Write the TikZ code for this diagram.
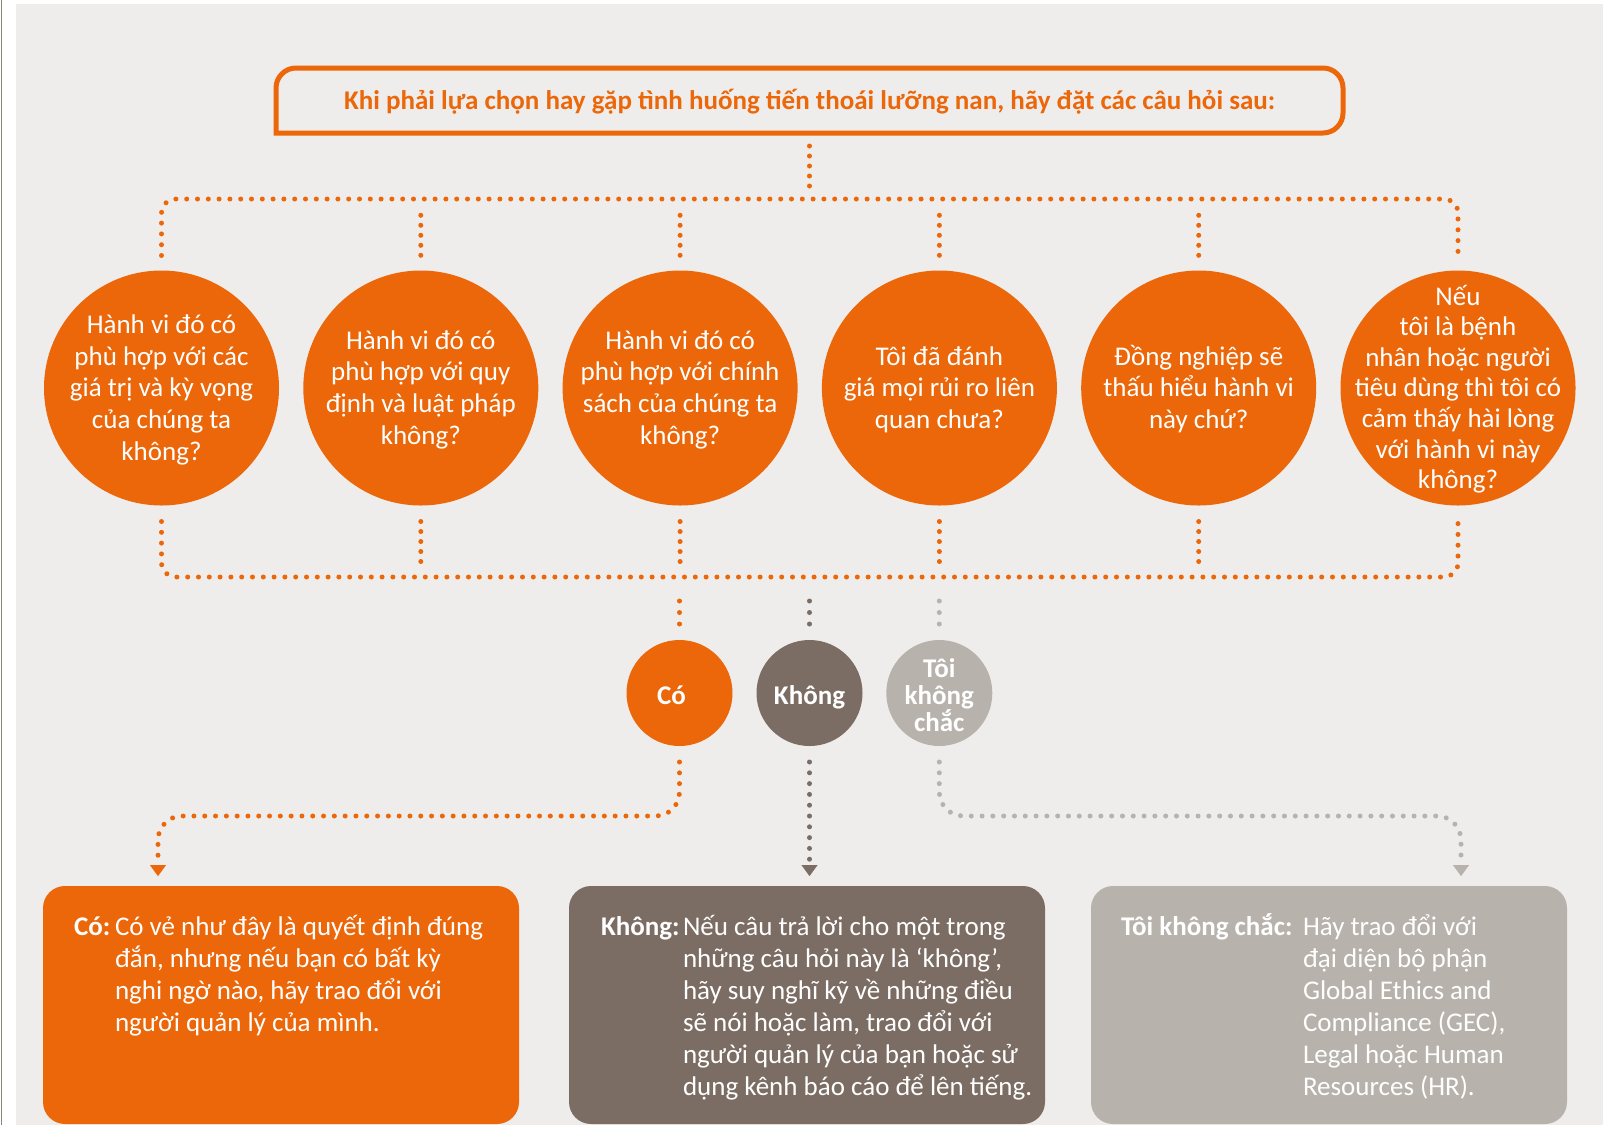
\documentclass[tikz,border=0pt]{standalone}
\usepackage{fontspec}
\setmainfont{Carlito}
\usetikzlibrary{calc,arrows.meta}

\definecolor{brandorange}{RGB}{235,103,9}
\definecolor{warmbrown}{RGB}{123,109,100}
\definecolor{warmgray}{RGB}{183,178,172}
\definecolor{panelbg}{RGB}{239,237,235}
\definecolor{edgerule}{RGB}{140,131,124}

\newcommand\bodysize{\fontsize{27}{31.7}\selectfont}
\newcommand\boxsize{\fontsize{27}{32}\selectfont}
\newcommand\qlines[2]{\parbox[t]{#1}{\centering\bodysize #2}}
\newcommand\blines[1]{\parbox[t]{440pt}{\raggedright\boxsize #1}}

\begin{document}
\begin{tikzpicture}[x=1pt,y=-1pt,
  qcirc/.style={circle, fill=brandorange, minimum size=235pt, inner sep=0pt, outer sep=0pt},
  acirc/.style={circle, minimum size=106pt, inner sep=0pt, outer sep=0pt},
  qtext/.style={text=white, inner sep=0pt, outer sep=0pt, anchor=base},
  answerbox/.style={rectangle, rounded corners=22pt, minimum width=476pt, minimum height=238pt, inner sep=0pt, outer sep=0pt},
  titlenode/.style={rectangle, minimum width=1067pt, minimum height=65pt, inner sep=0pt, outer sep=0pt,
    text=brandorange, font=\bfseries\fontsize{27}{31}\selectfont, text height=18pt, text depth=0pt},
  dotrun/.style={line width=5pt, line cap=round, dash pattern=on 0pt off 10.8pt},
  stubrun/.style={line width=5pt, line cap=round, dash pattern=on 0pt off 10pt},
  shortrun/.style={line width=5pt, line cap=round, dash pattern=on 0pt off 11.5pt},
  tip/.style={-{Triangle[width=16pt,length=11pt,line width=0.01pt]}},
  ]

% canvas
\useasboundingbox (0,0) rectangle (1613,1125);
\fill[white] (0,0) rectangle (1613,1125);
\fill[panelbg] (16,4) rectangle (1603,1125);
\draw[edgerule, line width=1.6pt] (1.5,0) -- (1.5,1125);

% heading with its frame (bottom-left corner kept square)
\node[titlenode] (title) at (809.5,100.5) {Khi phải lựa chọn hay gặp tình huống tiến thoái lưỡng nan, hãy đặt các câu hỏi sau:};
\draw[brandorange, line width=5pt]
  (title.south west) -- ($(title.north west)+(0,20)$)
  .. controls ($(title.north west)+(0,9)$) and ($(title.north west)+(9,0)$) .. ($(title.north west)+(20,0)$)
  -- ($(title.north east)+(-20,0)$)
  .. controls ($(title.north east)+(-9,0)$) and ($(title.north east)+(0,9)$) .. ($(title.north east)+(0,20)$)
  -- ($(title.south east)+(0,-20)$)
  .. controls ($(title.south east)+(0,-9)$) and ($(title.south east)+(-9,0)$) .. ($(title.south east)+(-20,0)$)
  -- cycle;

% question circles
\foreach \i/\x in {1/161.5, 2/420.8, 3/680.1, 4/939.4, 5/1198.7, 6/1458}
  \node[qcirc] (q\i) at (\x,388) {};

\node[qtext] (t1) at ($(q1.center)+(0,-54.7)$) {\qlines{230pt}{Hành vi đó có\\phù hợp với các\\giá trị và kỳ vọng\\của chúng ta\\không?}};
\node[qtext] (t2) at ($(q2.center)+(0,-38.8)$) {\qlines{230pt}{Hành vi đó có\\phù hợp với quy\\định và luật pháp\\không?}};
\node[qtext] (t3) at ($(q3.center)+(0,-38.8)$) {\qlines{230pt}{Hành vi đó có\\phù hợp với chính\\sách của chúng ta\\không?}};
\node[qtext] (t4) at ($(q4.center)+(0,-23)$) {\qlines{230pt}{Tôi đã đánh\\giá mọi rủi ro liên\\quan chưa?}};
\node[qtext] (t5) at ($(q5.center)+(0,-23)$) {\qlines{230pt}{Đồng nghiệp sẽ\\thấu hiểu hành vi\\này chứ?}};
\node[qtext] (t6) at ($(q6.center)+(0,-83)$) {\qlines{230pt}{\fontsize{27}{30.6}\selectfont Nếu\\tôi là bệnh\\nhân hoặc người\\tiêu dùng thì tôi có\\cảm thấy hài lòng\\với hành vi này\\không?}};

% bus lines
\coordinate (busT) at (809.5,199);
\coordinate (busB) at (809.5,577);
\draw[stubrun, brandorange] ($(title.south)+(0,13)$) -- ($(busT)+(0,-12.8)$);
\draw[dotrun, brandorange, rounded corners=14pt] ($(q1.north)+(0,-15)$) |- (busT) -| ($(q6.north)+(0,-15)$);
\foreach \i in {2,...,5}
  \draw[stubrun, brandorange] ($(q\i.north)+(0,-55.2)$) -- ($(q\i.north)+(0,-15)$);
\draw[dotrun, brandorange, rounded corners=14pt] ($(q1.south)+(0,16)$) |- (busB) -| ($(q6.south)+(0,16)$);
\foreach \i in {2,...,5}
  \draw[stubrun, brandorange] ($(q\i.south)+(0,16)$) -- ($(q\i.south)+(0,56.2)$);

% answer circles
\node[acirc, fill=brandorange] (yes) at (679.5,693) {};
\node[acirc, fill=warmbrown] (no) at (809.5,693) {};
\node[acirc, fill=warmgray] (unsure) at (939.3,693) {};
\node[qtext, font=\bfseries\bodysize] at ($(yes.center)+(-8,11)$) {Có};
\node[qtext, font=\bfseries\bodysize] at ($(no.center)+(0,11)$) {Không};
\node[qtext] at ($(unsure.center)+(0,-16)$) {\parbox[t]{100pt}{\centering\bfseries\fontsize{27}{27}\selectfont Tôi\\không\\chắc}};

\draw[shortrun, brandorange] ($(yes.north)+(0,-39)$) -- ($(yes.north)+(0,-15.8)$);
\draw[shortrun, warmbrown] ($(no.north)+(0,-39)$) -- ($(no.north)+(0,-15.8)$);
\draw[shortrun, warmgray] ($(unsure.north)+(0,-39)$) -- ($(unsure.north)+(0,-15.8)$);

% answer boxes
\node[answerbox, fill=brandorange] (box1) at (281,1005) {};
\node[answerbox, fill=warmbrown] (box2) at (807,1005) {};
\node[answerbox, fill=warmgray] (box3) at (1329,1005) {};

\node[qtext, anchor=base west, font=\bfseries\boxsize] at ($(box1.north west)+(31,49)$) {Có:};
\node[qtext, anchor=base west] at ($(box1.north west)+(72,49)$) {\blines{Có vẻ như đây là quyết định đúng\\đắn, nhưng nếu bạn có bất kỳ\\nghi ngờ nào, hãy trao đổi với\\người quản lý của mình.}};

\node[qtext, anchor=base west, font=\bfseries\boxsize] at ($(box2.north west)+(32,49)$) {Không:};
\node[qtext, anchor=base west] at ($(box2.north west)+(114,49)$) {\blines{Nếu câu trả lời cho một trong\\những câu hỏi này là ‘không’,\\hãy suy nghĩ kỹ về những điều\\sẽ nói hoặc làm, trao đổi với\\người quản lý của bạn hoặc sử\\dụng kênh báo cáo để lên tiếng.}};

\node[qtext, anchor=base west, font=\bfseries\boxsize] at ($(box3.north west)+(30,49)$) {Tôi không chắc:};
\node[qtext, anchor=base west] at ($(box3.north west)+(212,49)$) {\blines{Hãy trao đổi với\\đại diện bộ phận\\Global Ethics and\\Compliance (GEC),\\Legal hoặc Human\\Resources (HR).}};

% answer connectors
\draw[dotrun, brandorange, rounded corners=24pt, tip] ($(yes.south)+(0,16)$) |- ($(box1.north west)+(115,-70)$) -- ($(box1.north west)+(115,-10)$);
\draw[dotrun, warmbrown, tip] ($(no.south)+(0,16)$) -- ($(no.south |- box2.north)+(0,-10)$);
\draw[dotrun, warmgray, rounded corners=24pt, tip] ($(unsure.south)+(0,16)$) |- ($(box3.north east)+(-106,-70)$) -- ($(box3.north east)+(-106,-10)$);

\end{tikzpicture}
\end{document}
